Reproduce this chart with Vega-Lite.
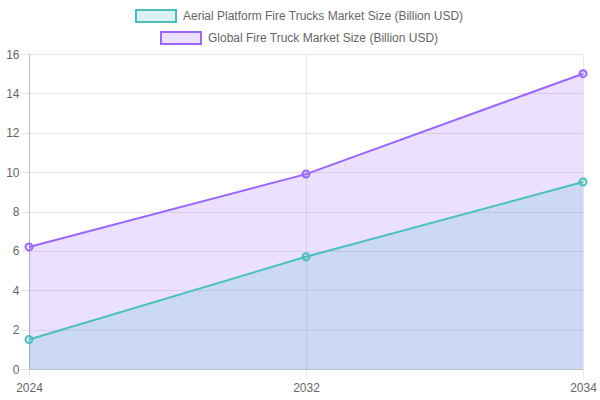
{
  "$schema": "https://vega.github.io/schema/vega-lite/v6.json",
  "width": 554,
  "height": 315,
  "autosize": "none",
  "padding": {"left": 29, "top": 54, "right": 17, "bottom": 31},
  "config": {
    "font": "Liberation Sans",
    "view": {"stroke": null},
    "axis": {
      "labelColor": "#666666",
      "labelFontSize": 12,
      "labelFont": "Liberation Sans",
      "gridColor": "#e6e6e6",
      "gridWidth": 1,
      "tickColor": "#e6e6e6",
      "tickSize": 8,
      "domainColor": "#bfbfbf",
      "domainWidth": 1,
      "title": null
    },
    "legend": {
      "title": null,
      "padding": 0,
      "labelColor": "#666666",
      "labelFontSize": 12,
      "labelFont": "Liberation Sans",
      "labelOffset": 6,
      "labelLimit": 0,
      "symbolType": "M-1,-0.3H1V0.3H-1Z",
      "symbolSize": 1600,
      "symbolStrokeWidth": 2,
      "orient": "none"
    }
  },
  "data": {
    "values": [
      {"year": "2024", "series": "Aerial Platform Fire Trucks Market Size (Billion USD)", "value": 1.5},
      {"year": "2032", "series": "Aerial Platform Fire Trucks Market Size (Billion USD)", "value": 5.7},
      {"year": "2034", "series": "Aerial Platform Fire Trucks Market Size (Billion USD)", "value": 9.5},
      {"year": "2024", "series": "Global Fire Truck Market Size (Billion USD)", "value": 6.2},
      {"year": "2032", "series": "Global Fire Truck Market Size (Billion USD)", "value": 9.9},
      {"year": "2034", "series": "Global Fire Truck Market Size (Billion USD)", "value": 15.0}
    ]
  },
  "encoding": {
    "x": {
      "field": "year",
      "type": "ordinal",
      "scale": {"type": "point", "padding": 0},
      "axis": {"labelAngle": 0, "grid": true, "labelPadding": 5}
    },
    "y": {
      "field": "value",
      "type": "quantitative",
      "stack": null,
      "scale": {"domain": [0, 16], "nice": false},
      "axis": {"values": [0, 2, 4, 6, 8, 10, 12, 14, 16], "grid": true, "labelPadding": 2}
    }
  },
  "layer": [
    {
      "transform": [{"filter": "datum.series === 'Global Fire Truck Market Size (Billion USD)'"}],
      "mark": {"type": "area", "fillOpacity": 0.2},
      "encoding": {
        "fill": {
          "field": "series",
          "type": "nominal",
          "scale": {"range": ["#4bc0c0", "#9966ff"]},
          "legend": null
        }
      }
    },
    {
      "transform": [{"filter": "datum.series === 'Aerial Platform Fire Trucks Market Size (Billion USD)'"}],
      "mark": {"type": "area", "fillOpacity": 0.2},
      "encoding": {
        "fill": {"field": "series", "type": "nominal", "legend": null}
      }
    },
    {
      "mark": {"type": "line", "strokeWidth": 2},
      "encoding": {
        "stroke": {
          "field": "series",
          "type": "nominal",
          "scale": {
            "domain": ["Aerial Platform Fire Trucks Market Size (Billion USD)", "Global Fire Truck Market Size (Billion USD)"],
            "range": ["#4bc0c0", "#9966ff"]
          },
          "legend": {
            "values": ["Aerial Platform Fire Trucks Market Size (Billion USD)"],
            "legendX": 106,
            "legendY": -59,
            "symbolFillColor": "#dbf2f2",
            "encode": {
              "symbols": {
                "update": {
                  "fill": {"value": "#dbf2f2"},
                  "fillOpacity": {"value": 1},
                  "opacity": {"value": 1},
                  "stroke": {"value": "#4bc0c0"},
                  "strokeWidth": {"value": 2}
                }
              }
            }
          }
        }
      }
    },
    {
      "mark": {"type": "point", "shape": "circle", "size": 49, "strokeWidth": 2, "filled": false, "fillOpacity": 0.2, "opacity": 1},
      "encoding": {
        "color": {
          "field": "series",
          "type": "nominal",
          "scale": {
            "domain": ["Global Fire Truck Market Size (Billion USD)", "Aerial Platform Fire Trucks Market Size (Billion USD)"],
            "range": ["#9966ff", "#4bc0c0"]
          },
          "legend": {
            "values": ["Global Fire Truck Market Size (Billion USD)"],
            "legendX": 131,
            "legendY": -37,
            "symbolFillColor": "#ebe0ff",
            "encode": {
              "symbols": {
                "update": {
                  "fill": {"value": "#ebe0ff"},
                  "fillOpacity": {"value": 1},
                  "opacity": {"value": 1},
                  "stroke": {"value": "#9966ff"},
                  "strokeWidth": {"value": 2}
                }
              }
            }
          }
        },
        "fill": {"field": "series", "type": "nominal", "legend": null}
      }
    }
  ]
}
